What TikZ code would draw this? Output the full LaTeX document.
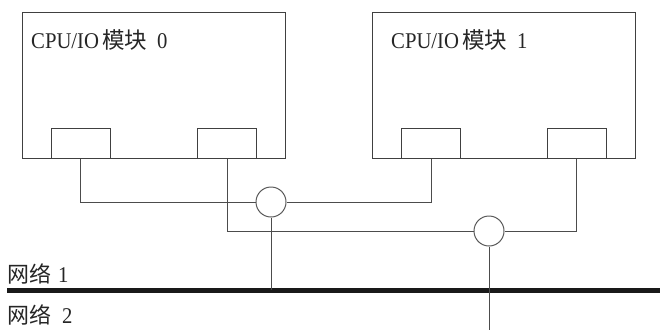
\documentclass[tikz,border=0pt]{standalone}
\usepackage{fontspec}
\setmainfont[FakeStretch=0.92]{Liberation Serif}
\newfontfamily\cjk{Noto Sans CJK SC}
\begin{document}
\begin{tikzpicture}[x=1pt,y=-1pt,
  wire/.style={draw=black!70,line width=0.9pt},
  module/.style={draw=black!75,line width=1pt,rectangle,minimum width=263pt,minimum height=146pt,inner sep=0pt},
  port/.style={draw=black!75,line width=1pt,rectangle,minimum width=59pt,minimum height=30pt,inner sep=0pt},
  hub/.style={draw=black!65,line width=1pt,circle,minimum size=30pt,inner sep=0pt},
  lbl/.style={anchor=base west,inner sep=0pt,font=\fontsize{22.5}{26}\selectfont,text=black!85}]
\useasboundingbox (0,0) rectangle (660,330);
\node[module] (m0) at (153.5,85) {};
\node[module] (m1) at (503.5,85) {};
\node[port] (p0a) at (80.5,143) {};
\node[port] (p0b) at (227,143) {};
\node[port] (p1a) at (431,143) {};
\node[port] (p1b) at (576.5,143) {};
\node[lbl] (t0) at (31,48) {CPU/IO\hspace{3pt}{\cjk\fontsize{22.5}{26}\selectfont 模块}\hspace{10pt}0};
\node[lbl] (t1) at (391,48) {CPU/IO\hspace{3pt}{\cjk\fontsize{22.5}{26}\selectfont 模块}\hspace{10pt}1};
\node[hub] (c1) at (271,202) {};
\node[hub] (c2) at (489,231) {};
\coordinate (n1w) at (7,290);
\coordinate (n1e) at (660,290);
\coordinate (d1) at (271,290);
\coordinate (d2) at (489,330);
\draw[wire] (p0a.south) |- (c1.west);
\draw[wire] (c1.east) -| (p1a.south);
\draw[wire] (p0b.south) |- (c2.west);
\draw[wire] (c2.east) -| (p1b.south);
\draw[line width=5pt,draw=black!90] (n1w) -- (n1e);
\draw[wire] (c1.south) -- (d1);
\draw[wire] (c2.south) -- (d2);
\node[lbl] (l1) at (7,282) {{\cjk\fontsize{22}{26}\selectfont 网络}\hspace{7pt}1};
\node[lbl] (l2) at (7,323) {{\cjk\fontsize{22}{26}\selectfont 网络}\hspace{11pt}2};
\end{tikzpicture}
\end{document}
